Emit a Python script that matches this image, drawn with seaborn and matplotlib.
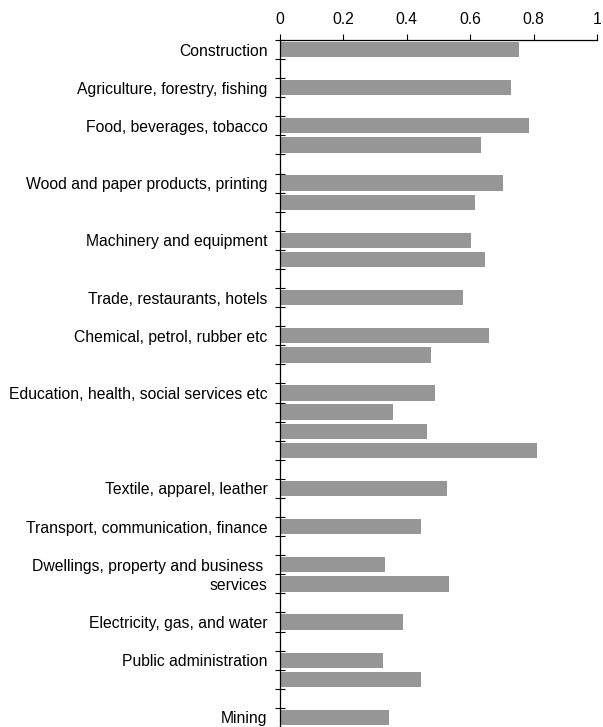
import numpy as np
import pandas as pd
import matplotlib
matplotlib.use("Agg")
import matplotlib.pyplot as plt
import seaborn as sns
from matplotlib.ticker import FixedLocator


# Data (one entry per row slot, blank rows have no bar)
row_labels = [
    "Construction", "",
    "Agriculture, forestry, fishing", "",
    "Food, beverages, tobacco", "", "",
    "Wood and paper products, printing", "", "",
    "Machinery and equipment", "", "",
    "Trade, restaurants, hotels", "",
    "Chemical, petrol, rubber etc", "", "",
    "Education, health, social services etc", "", "", "", "",
    "Textile, apparel, leather", "",
    "Transport, communication, finance", "",
    "Dwellings, property and business ", "services", "",
    "Electricity, gas, and water", "",
    "Public administration", "", "",
    "Mining",
]

values = [
    0.753, None,
    0.729, None,
    0.786, 0.634, None,
    0.703, 0.615, None,
    0.602, 0.646, None,
    0.577, None,
    0.659, 0.476, None,
    0.488, 0.356, 0.463, 0.810, None,
    0.526, None,
    0.445, None,
    0.330, 0.533, None,
    0.387, None,
    0.324, 0.445, None,
    0.344,
]

x_ticks = [0, 0.2, 0.4, 0.6, 0.8, 1]
x_tick_labels = ["0", "0.2", "0.4", "0.6", "0.8", "1"]


# Frame
row_ids = [f"r{i}" for i in range(len(row_labels))]
df = pd.DataFrame({"row": row_ids, "value": values}).dropna()


sns.set_style("white")
plt.rcParams["font.family"] = ["Liberation Sans", "DejaVu Sans"]
plt.rcParams["font.size"] = 11.3
plt.rcParams["text.color"] = "black"
plt.rcParams["xtick.color"] = "black"
plt.rcParams["ytick.color"] = "black"

fig = plt.figure(figsize=(6.03, 7.27), dpi=100)
ax = fig.add_axes([0.4643, 0.0, 0.9900 - 0.4643, 0.945])

sns.barplot(
    data=df,
    x="value",
    y="row",
    order=row_ids,
    color="#969696",
    saturation=1,
    width=0.8,
    linewidth=0,
    ax=ax
)

n = len(row_ids)
ax.set_ylim(n - 0.5, -0.5)
ax.set_xlim(0, 1)

# x axis on top
ax.xaxis.tick_top()
ax.set_xticks(x_ticks)
ax.set_xticklabels(x_tick_labels)
ax.tick_params(
    axis="x", direction="out", length=4, width=0.8,
    color="black", labelcolor="black", pad=5, labelsize=11.3
)

# category labels at centers, tick marks at row boundaries
ax.set_yticks(range(n))
ax.set_yticklabels(row_labels)
ax.tick_params(
    axis="y", which="major", length=0, pad=9,
    labelsize=11.3, labelcolor="black"
)
ax.yaxis.set_minor_locator(FixedLocator(np.arange(-0.5, n, 1)))
ax.tick_params(
    axis="y", which="minor", direction="inout",
    length=7, width=0.8, color="black", left=True
)

ax.set_xlabel("")
ax.set_ylabel("")

for side in ["right", "bottom"]:
    ax.spines[side].set_visible(False)

for side in ["left", "top"]:
    ax.spines[side].set_color("black")
    ax.spines[side].set_linewidth(0.9)

plt.savefig("out.png", dpi=100)

plt.close()
